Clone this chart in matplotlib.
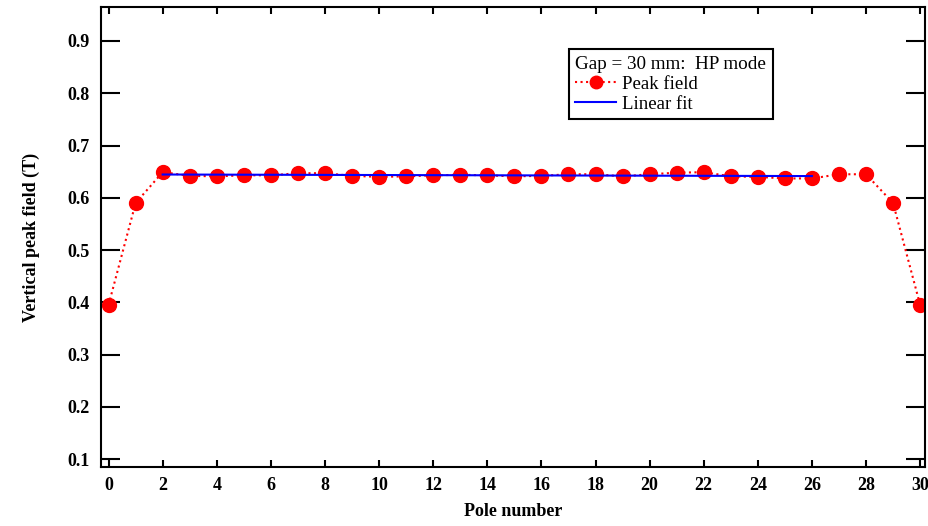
import matplotlib.pyplot as plt
import numpy as np

# pole number vs vertical peak field (T)
poles = np.arange(0, 31)
peak = [0.395, 0.590, 0.649, 0.642, 0.641, 0.643, 0.643, 0.647, 0.647, 0.642,
        0.640, 0.641, 0.643, 0.644, 0.643, 0.641, 0.642, 0.645, 0.645, 0.641,
        0.645, 0.648, 0.649, 0.641, 0.640, 0.637, 0.637, 0.645, 0.645, 0.590,
        0.395]

# linear fit over poles 2..26
fit_x = poles[2:27]
coef = np.polyfit(fit_x, peak[2:27], 1)
fit_y = np.polyval(coef, fit_x)

plt.rcParams['font.family'] = ['Liberation Serif', 'DejaVu Serif']

fig = plt.figure(figsize=(9.29, 5.26), dpi=100)
ax = fig.add_axes([0.1087, 0.1122, 0.8870, 0.8745])

ax.plot(poles, peak, color='red', linestyle=':', linewidth=1.5,
        marker='o', markersize=10, label='Peak field')
ax.plot(fit_x, fit_y, color='blue', linewidth=1.5, label='Linear fit')

ax.set_xlim(-0.28, 30.18)
ax.set_ylim(0.085, 0.965)
ax.set_xticks(np.arange(0, 31, 2))
ax.set_yticks(np.arange(0.1, 0.95, 0.1))
ax.set_yticklabels(['%.1f' % v for v in np.arange(0.1, 0.95, 0.1)])

ax.tick_params(axis='x', direction='in', length=5, width=1.5, top=True, pad=7,
               labelsize=13)
ax.tick_params(axis='y', direction='in', length=14, width=1.5, right=True, pad=8,
               labelsize=13)
for lab in ax.get_xticklabels() + ax.get_yticklabels():
    lab.set_fontweight('bold')
for sp in ax.spines.values():
    sp.set_linewidth(1.5)

ax.set_xlabel('Pole number', fontsize=13, fontweight='bold', labelpad=7)
ax.set_ylabel('Vertical peak field (T)', fontsize=13, fontweight='bold', labelpad=20)

leg = ax.legend(title='Gap = 30 mm:  HP mode', loc='upper left',
                bbox_to_anchor=(0.556, 0.928), fontsize=13.5, title_fontsize=13.8,
                fancybox=False, edgecolor='black', framealpha=1,
                handlelength=2.2, handletextpad=0.3, borderpad=0.35,
                labelspacing=0.15, alignment='left', markerscale=0.9)
leg.get_frame().set_linewidth(1.5)

fig.savefig('out.png', dpi=100)
